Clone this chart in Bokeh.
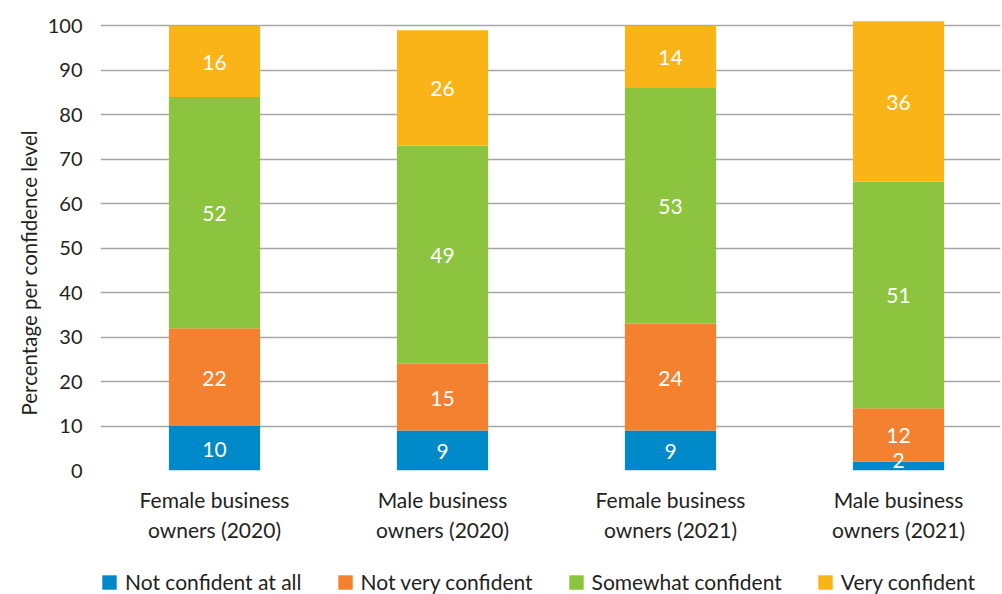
import numpy as np
from bokeh.plotting import figure
from bokeh.layouts import column
from bokeh.models import ColumnDataSource, Range1d, FixedTicker, Legend, LegendItem, Title
from bokeh.core.properties import value
from bokeh.embed import file_html
from bokeh.resources import INLINE

categories = ["Female business\nowners (2020)", "Male business\nowners (2020)",
              "Female business\nowners (2021)", "Male business\nowners (2021)"]
series_names = ["Not confident at all", "Not very confident", "Somewhat confident", "Very confident"]
not_confident = [10, 9, 9, 2]
not_very_confident = [22, 15, 24, 12]
somewhat_confident = [52, 49, 53, 51]
very_confident = [16, 26, 14, 36]
y_ticks = list(range(0, 101, 10))

colors = ["#0089c9", "#f3812f", "#8cc43f", "#fab418"]
FONT = "Lato"
TXT = "#231f20"

series = [not_confident, not_very_confident, somewhat_confident, very_confident]
keys = ["s0", "s1", "s2", "s3"]
xpos = np.arange(len(categories)) + 0.5

data = {"x": xpos}
for k, s in zip(keys, series):
    data[k] = s
src = ColumnDataSource(data)

p = figure(width=1002, height=562, output_backend="svg", toolbar_location=None,
           x_range=Range1d(0, 900 / 228), y_range=Range1d(0, 102.3),
           min_border_left=100, min_border_right=2, min_border_top=15, min_border_bottom=92)
p.outline_line_color = None

renderers = p.vbar_stack(keys, x="x", width=0.4, source=src, color=colors, line_color=None)

# value labels, centred in each segment (kept clear of the baseline)
arr = np.array(series, dtype=float)
cum = np.cumsum(arr, axis=0)
mids = np.maximum(cum - arr / 2, 2.4)
lx, ly, lt = [], [], []
for i in range(arr.shape[0]):
    for j in range(arr.shape[1]):
        lx.append(xpos[j]); ly.append(mids[i, j]); lt.append(str(int(arr[i, j])))
lsrc = ColumnDataSource(dict(x=lx, y=ly, t=lt))
p.text(x="x", y="y", text="t", source=lsrc, text_align="center", text_baseline="middle",
       text_color="white", text_font=value(FONT), text_font_size="21px", y_offset=1)

p.xgrid.visible = False
p.ygrid.grid_line_color = "#a6a6a6"
p.ygrid.grid_line_width = 1.5
p.ygrid.ticker = FixedTicker(ticks=y_ticks)

p.yaxis.ticker = FixedTicker(ticks=y_ticks)
p.yaxis.axis_line_color = None
p.yaxis.major_tick_line_color = None
p.yaxis.minor_tick_line_color = None
p.yaxis.major_label_standoff = 12
p.yaxis.major_label_text_font = FONT
p.yaxis.major_label_text_font_size = "20px"
p.yaxis.major_label_text_color = TXT

ytitle = Title(text="Percentage per confidence level", align="left", offset=55,
               text_font=FONT, text_font_style="normal", text_font_size="20.5px",
               text_color=TXT, standoff=8)
p.add_layout(ytitle, "left")

p.xaxis.ticker = FixedTicker(ticks=list(xpos))
p.xaxis.major_label_overrides = {float(x): c for x, c in zip(xpos, categories)}
p.xaxis.axis_line_color = None
p.xaxis.major_tick_line_color = None
p.xaxis.minor_tick_line_color = None
p.xaxis.major_label_standoff = 10
p.xaxis.major_label_text_font = FONT
p.xaxis.major_label_text_font_size = "21px"
p.xaxis.major_label_text_color = TXT

# legend strip
lg = figure(width=1002, height=32, output_backend="svg", toolbar_location=None,
            x_range=Range1d(0, 1), y_range=Range1d(0, 1),
            min_border_left=0, min_border_right=0, min_border_top=0, min_border_bottom=0)
lg.outline_line_color = None
lg.axis.visible = False
lg.grid.visible = False
# keys only: swatches sit outside the visible range
hidden = ColumnDataSource(dict(l=[5], r=[6], b=[5], t=[6]))
lrends = [lg.quad(left="l", right="r", bottom="b", top="t", source=hidden, color=c, line_color=None)
          for c in colors]
legend = Legend(items=[LegendItem(label=n, renderers=[r]) for n, r in zip(series_names, lrends)],
                orientation="horizontal", location=(0, 0),
                glyph_width=18, glyph_height=18, label_standoff=7, spacing=34,
                label_text_font=FONT, label_text_font_size="21px", label_text_color=TXT,
                border_line_color=None, background_fill_alpha=0, padding=0, margin=0)
lg.add_layout(legend)

open("out.html", "w").write(file_html(column(p, lg, spacing=0), INLINE))
